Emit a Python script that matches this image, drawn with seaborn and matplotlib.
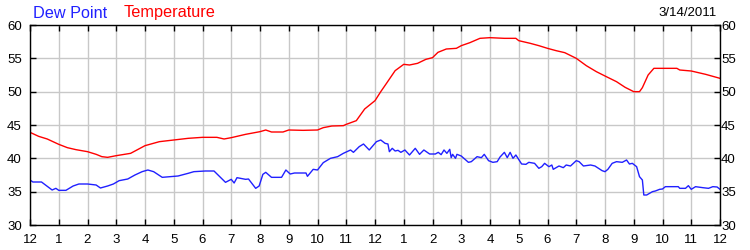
import matplotlib
matplotlib.use("Agg")
import matplotlib.pyplot as plt
import matplotlib.transforms as mtransforms
import seaborn as sns
import pandas as pd

# ---- data (hours since midnight, 3/14/2011) ----
temp_hours = [0, 0.3, 0.6, 1.0, 1.3, 1.6, 2.0, 2.3, 2.5, 2.7, 3.0, 3.5, 4.0, 4.5, 5.0,
              5.5, 6.0, 6.5, 6.75, 7.0, 7.5, 8.0, 8.2, 8.4, 8.8, 9.0, 9.5, 10.0, 10.2,
              10.5, 10.9, 11.0, 11.35, 11.64, 12.0, 12.2, 12.4, 12.7, 13.0, 13.2, 13.48,
              13.77, 14.0, 14.19, 14.48, 14.83, 15.0, 15.3, 15.65, 16.0, 16.5, 16.9, 17.0,
              17.4, 17.7, 18.0, 18.3, 18.6, 19.0, 19.35, 19.7, 20.0, 20.4, 20.7, 21.0, 21.2,
              21.3, 21.5, 21.7, 22.5, 22.6, 23.0, 23.5, 24.0]
temperature = [43.9, 43.3, 42.9, 42.1, 41.6, 41.3, 41.0, 40.6, 40.25, 40.15, 40.4, 40.75,
               41.9, 42.5, 42.75, 43.0, 43.15, 43.15, 42.9, 43.1, 43.6, 44.0, 44.25, 43.95,
               43.95, 44.25, 44.2, 44.25, 44.6, 44.85, 44.9, 45.1, 45.65, 47.4, 48.65,
               50.0, 51.25, 53.15, 54.1, 54.0, 54.25, 54.85, 55.1, 55.9, 56.4, 56.5, 56.9,
               57.35, 58.0, 58.1, 58.0, 58.0, 57.65, 57.25, 56.9, 56.5, 56.15, 55.85, 55.0,
               53.9, 53.0, 52.35, 51.5, 50.65, 50.0, 50.0, 50.6, 52.5, 53.5, 53.5, 53.25,
               53.1, 52.6, 52.0]

dew_hours = [0, 0.1, 0.4, 0.77, 0.9, 1.0, 1.25, 1.5, 1.7, 2.0, 2.3, 2.45, 2.7, 2.9, 3.1,
             3.4, 3.65, 3.9, 4.1, 4.3, 4.6, 4.9, 5.15, 5.5, 5.7, 6.1, 6.4, 6.6, 6.8, 7.0,
             7.1, 7.2, 7.5, 7.6, 7.85, 7.97, 8.1, 8.2, 8.4, 8.75, 8.9, 9.05, 9.2, 9.6,
             9.65, 9.85, 10.0, 10.2, 10.45, 10.7, 10.9, 11.15, 11.25, 11.45, 11.6, 11.8,
             12.05, 12.2, 12.35, 12.45, 12.5, 12.6, 12.7, 12.8, 12.9, 13.04, 13.2, 13.4,
             13.55, 13.7, 13.9, 14.1, 14.2, 14.3, 14.4, 14.5, 14.6, 14.65, 14.7, 14.8,
             14.85, 15.0, 15.25, 15.35, 15.55, 15.7, 15.8, 15.95, 16.1, 16.25, 16.35, 16.5,
             16.6, 16.7, 16.8, 16.9, 17.1, 17.25, 17.35, 17.55, 17.7, 17.8, 17.9, 18.05,
             18.15, 18.2, 18.4, 18.55, 18.65, 18.8, 19.0, 19.1, 19.25, 19.5, 19.65, 19.9,
             20.0, 20.1, 20.25, 20.4, 20.6, 20.75, 20.85, 20.95, 21.1, 21.2, 21.3, 21.35,
             21.45, 21.65, 21.75, 21.9, 22.0, 22.1, 22.55, 22.6, 22.8, 22.9, 23.0, 23.15,
             23.4, 23.6, 23.75, 23.9, 24.0]
dew_point = [36.75, 36.45, 36.45, 35.25, 35.5, 35.2, 35.2, 35.85, 36.15, 36.15, 36.0,
             35.55, 35.85, 36.15, 36.65, 36.9, 37.5, 38.0, 38.25, 38.0, 37.15, 37.25,
             37.35, 37.75, 38.0, 38.1, 38.1, 37.25, 36.4, 36.85, 36.3, 37.1, 36.85, 36.9,
             35.5, 35.85, 37.6, 37.9, 37.15, 37.15, 38.25, 37.65, 37.8, 37.8, 37.3, 38.35,
             38.25, 39.35, 40.0, 40.25, 40.75, 41.25, 40.9, 41.75, 42.15, 41.25, 42.5,
             42.75, 42.25, 42.15, 41.0, 41.5, 41.1, 41.2, 40.9, 41.25, 40.5, 41.5, 40.6,
             41.25, 40.65, 40.65, 40.9, 40.55, 41.25, 40.75, 41.35, 40.1, 40.6, 40.0, 40.6,
             40.35, 39.4, 39.5, 40.25, 40.1, 40.6, 39.65, 39.4, 39.5, 40.2, 40.9, 40.1,
             40.9, 40.0, 40.5, 39.15, 39.1, 39.4, 39.25, 38.5, 38.75, 39.25, 38.75, 39.0,
             38.35, 38.85, 38.6, 39.0, 38.85, 39.65, 39.5, 38.85, 39.0, 38.85, 38.15, 38.0,
             38.35, 39.25, 39.5, 39.4, 39.75, 39.15, 39.25, 38.75, 37.25, 36.75, 34.5,
             34.5, 35.0, 35.1, 35.35, 35.4, 35.75, 35.75, 35.5, 35.5, 35.9, 35.35, 35.75,
             35.6, 35.5, 35.75, 35.7, 35.35]

hour_ticks = list(range(0, 25))
hour_labels = ["12", "1", "2", "3", "4", "5", "6", "7", "8", "9", "10", "11",
               "12", "1", "2", "3", "4", "5", "6", "7", "8", "9", "10", "11", "12"]
y_ticks = [30, 35, 40, 45, 50, 55, 60]
date_label = "3/14/2011"

# ---- plotting ----
sns.set_theme(style="white")
plt.rcParams["font.family"] = ["Liberation Sans", "DejaVu Sans"]

fig = plt.figure(figsize=(7.5, 2.5), dpi=100)
ax = fig.add_axes([30 / 750, 25 / 250, 690 / 750, 200 / 250])

df_t = pd.DataFrame({"hour": temp_hours, "value": temperature})
df_d = pd.DataFrame({"hour": dew_hours, "value": dew_point})
sns.lineplot(data=df_t, x="hour", y="value", ax=ax, color="#ff0000", lw=1.0)
sns.lineplot(data=df_d, x="hour", y="value", ax=ax, color="#2020ff", lw=1.0)

ax.set_xlim(0, 24)
ax.set_ylim(30, 60)
ax.set_xticks(hour_ticks)
ax.set_xticklabels(hour_labels)
ax.set_yticks(y_ticks)
ax.set_xlabel("")
ax.set_ylabel("")
ax.grid(True, color="#c8c8c8", lw=1.0)
ax.set_axisbelow(True)
for s in ax.spines.values():
    s.set_color("black")
    s.set_linewidth(1.0)
ax.tick_params(axis="both", direction="in", length=4, width=1, color="black",
               top=True, right=True, left=True, bottom=True,
               labelright=True, labelleft=True, labelsize=9.5, pad=3,
               labelcolor="black")

# fine positioning of tick labels
px = 72 / 100.0
for lab in ax.get_xticklabels():
    lab.set_transform(lab.get_transform() + mtransforms.ScaledTranslation(0, -4.5 / 100, fig.dpi_scale_trans))
for t in ax.yaxis.get_major_ticks():
    t.label1.set_transform(t.label1.get_transform() + mtransforms.ScaledTranslation(-4 / 100, 0, fig.dpi_scale_trans))
    t.label2.set_transform(t.label2.get_transform() + mtransforms.ScaledTranslation(-3 / 100, 0, fig.dpi_scale_trans))

fig.text(33 / 750, 1 - 13 / 250, "Dew Point", color="#2020ff", fontsize=11.7, va="center", ha="left")
fig.text(124 / 750, 1 - 13 / 250, "Temperature", color="#ff0000", fontsize=11.7, va="center", ha="left")
fig.text(717 / 750, 1 - 13 / 250, date_label, color="black", fontsize=9.5, va="center", ha="right")

fig.savefig("out.png", dpi=100)
